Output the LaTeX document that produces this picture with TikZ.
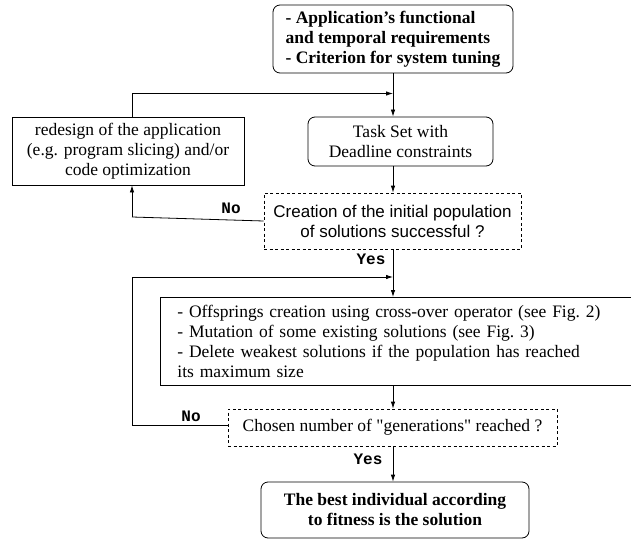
\documentclass[tikz,border=0pt]{standalone}
\usepackage{fontspec}
\setmainfont{Liberation Serif}
\newfontfamily\helv{Liberation Sans}
\newfontfamily\cour{Liberation Mono}
\newfontfamily\plainserif{Liberation Serif}
\usetikzlibrary{arrows.meta}

\tikzstyle{line} = [draw, line width=0.8pt, -{Latex[length=7pt,width=4.5pt]}]
\tikzstyle{plain} = [draw, line width=0.8pt]
\tikzstyle{rbox} = [draw, line width=0.8pt, rounded corners=7pt, inner sep=0pt, align=center]
\tikzstyle{sbox} = [draw, line width=0.8pt, inner sep=0pt, align=center]
\tikzstyle{question} = [draw, line width=0.8pt, dash pattern=on 3pt off 2.5pt, inner sep=0pt, align=center]
\tikzstyle{answer} = [font=\cour\bfseries\fontsize{16}{18}\selectfont, inner sep=1pt]

\begin{document}
\begin{tikzpicture}[x=1pt, y=1pt, font=\fontsize{17.5}{20}\selectfont]
		\useasboundingbox (0,0) rectangle (631,-540);
		\node [rbox, minimum width=240pt, minimum height=68pt, font=\bfseries\fontsize{17.5}{20}\selectfont, align=left] (appreq) at (393,-39) {- Application's functional\\and temporal requirements\\- Criterion for system tuning}; % Eingabe
		\node [sbox, minimum width=232pt, minimum height=68pt] (redesign) at (128,-151) {redesign of the application\\(e.g. program slicing) and/or\\code optimization};
		\node [rbox, minimum width=185pt, minimum height=49pt] (taskset) at (400.5,-141.5) {Task Set with\\Deadline constraints};
		\node [question, minimum width=257pt, minimum height=56pt, font=\helv\fontsize{17}{20}\selectfont] (initpop) at (392.5,-221) {Creation of the initial population\\of solutions successful ?};
		\node [draw, line width=0.8pt, anchor=north west, minimum height=88pt, text width=460pt, inner xsep=17pt, inner ysep=0pt, align=left] (evolve) at (160,-297) {- Offsprings creation using cross-over operator (see Fig.\ 2)\\- Mutation of some existing solutions (see Fig.\ 3)\\- Delete weakest solutions if the population has reached\\its maximum size}; % Schleife
		\node [question, minimum width=329pt, minimum height=37pt, font=\plainserif\fontsize{17.5}{20}\selectfont] (generations) at (392.5,-427.5) {Chosen number of "generations" reached ?};
		\node [rbox, minimum width=268pt, minimum height=56pt, font=\bfseries\fontsize{17.5}{20}\selectfont] (best) at (395,-510) {The best individual according\\to fitness is the solution}; % Ergebnis

		\coordinate (join1) at (393,-93.5); % Rueckfuehrung oben
		\coordinate (join2) at (393,-277); % Rueckfuehrung unten
		\coordinate (back1) at (132,-217);
		\coordinate (back2) at (132,-425.5);

		\draw [plain] (appreq.south) -- (join1);
		\draw [line] (join1) -- (join1 |- taskset.north);
		\draw [line] (join1 |- taskset.south) -- (join1 |- initpop.north);
		\draw [plain] (initpop.west) -- (back1);
		\draw [line] (back1) -- (back1 |- redesign.south);
		\draw [plain] (back1 |- redesign.north) -- ++(0,23.5);
		\draw [line] (back1 |- join1) -- (join1);
		\draw [plain] (join2 |- initpop.south) -- (join2);
		\draw [line] (join2) -- (join2 |- evolve.north);
		\draw [line] (join2 |- evolve.south) -- (join2 |- generations.north);
		\draw [plain] (generations.west |- back2) -- (back2) -- (back2 |- join2);
		\draw [line] (back2 |- join2) -- (join2);
		\draw [line] (join2 |- generations.south) -- (join2 |- best.north);

		\node [answer] (no1) at (231,-208) {No};
		\node [answer] (yes1) at (371,-259) {Yes};
		\node [answer] (no2) at (191,-416) {No};
		\node [answer] (yes2) at (368,-459) {Yes};
	\end{tikzpicture}
\end{document}
